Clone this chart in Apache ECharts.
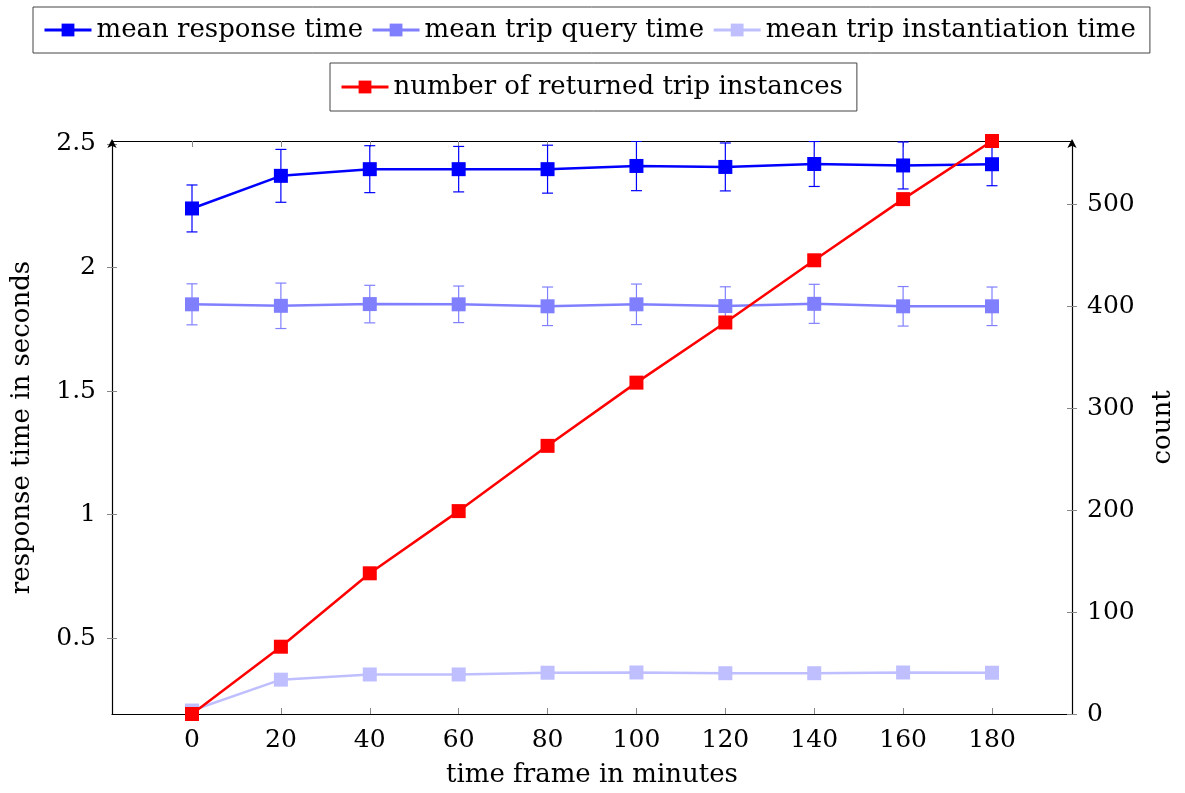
<!DOCTYPE html>
<html>
<head>
<meta charset="utf-8">
<script src="https://cdn.jsdelivr.net/npm/echarts@6/dist/echarts.min.js"></script>
<style>html,body{margin:0;padding:0;background:#fff}#c{width:1185px;height:793px}</style>
</head>
<body>
<div id="c"></div>
<script>
const xValues = [0, 20, 40, 60, 80, 100, 120, 140, 160, 180];
const responseMean = [2.239, 2.371, 2.398, 2.398, 2.398, 2.411, 2.407, 2.419, 2.413, 2.418];
const responseErr = [0.095, 0.107, 0.095, 0.092, 0.097, 0.100, 0.097, 0.091, 0.095, 0.087];
const queryMean = [1.851, 1.845, 1.852, 1.851, 1.843, 1.851, 1.844, 1.853, 1.843, 1.843];
const queryErr = [0.083, 0.092, 0.076, 0.074, 0.078, 0.082, 0.078, 0.079, 0.080, 0.078];
const instMean = [0.207, 0.332, 0.353, 0.353, 0.360, 0.361, 0.358, 0.358, 0.361, 0.360];
const tripCount = [0, 66, 138, 199, 263, 325, 384, 445, 505, 562];
const xTicks = [0, 20, 40, 60, 80, 100, 120, 140, 160, 180];
const leftTicks = [0.5, 1, 1.5, 2, 2.5];
const rightTicks = [0, 100, 200, 300, 400, 500];

const FONT = 'DejaVu Serif';
const TICKC = '#888';
const chart = echarts.init(document.getElementById('c'), null, {renderer: 'canvas'});

function pairs(ys) { return xValues.map((x, i) => [x, ys[i]]); }
function errData(m, e) { return xValues.map((x, i) => [x, m[i] - e[i], m[i] + e[i]]); }
function errSeries(name, m, e, color) {
  return {
    type: 'custom', name: name + ' err', xAxisIndex: 0, yAxisIndex: 0, clip: true, z: 2,
    silent: true,
    data: errData(m, e),
    renderItem: function (params, api) {
      const lo = api.coord([api.value(0), api.value(1)]);
      const hi = api.coord([api.value(0), api.value(2)]);
      const w = 5.5;
      const st = {stroke: color, lineWidth: 1.2};
      return {type: 'group', children: [
        {type: 'line', shape: {x1: lo[0], y1: lo[1], x2: hi[0], y2: hi[1]}, style: st},
        {type: 'line', shape: {x1: lo[0] - w, y1: lo[1], x2: lo[0] + w, y2: lo[1]}, style: st},
        {type: 'line', shape: {x1: hi[0] - w, y1: hi[1], x2: hi[0] + w, y2: hi[1]}, style: st}
      ]};
    }
  };
}
function lineSeries(name, ys, color, yIdx, z) {
  return {
    type: 'line', name: name, xAxisIndex: 0, yAxisIndex: yIdx, data: pairs(ys),
    symbol: 'rect', symbolSize: 14, clip: false, z: z,
    lineStyle: {color: color, width: 2.5}, itemStyle: {color: color},
    emphasis: {disabled: true}
  };
}
const legendText = {fontFamily: FONT, fontSize: 26, color: '#000'};
const tickText = {fontFamily: FONT, fontSize: 25, color: '#000'};
const titleText = {fontFamily: FONT, fontSize: 26, color: '#000'};

chart.setOption({
  animation: false,
  grid: {left: 112, right: 113, top: 141, bottom: 79},
  legend: [
    {data: ['mean response time', 'mean trip query time', 'mean trip instantiation time'],
     top: 7, left: 33, borderColor: '#444', borderWidth: 1, padding: [10, 14, 10, 10],
     itemWidth: 47, itemHeight: 16, itemGap: 8, textStyle: legendText,
     lineStyle: {width: 3}},
    {data: ['number of returned trip instances'],
     top: 63, left: 330, borderColor: '#444', borderWidth: 1, padding: [11, 14, 11, 10],
     itemWidth: 47, itemHeight: 16, itemGap: 8, textStyle: legendText,
     lineStyle: {width: 3}}
  ],
  xAxis: [
    {type: 'value', min: -18, max: 198, position: 'bottom',
     name: 'time frame in minutes', nameLocation: 'middle', nameGap: 48,
     nameTextStyle: titleText,
     axisLine: {show: true, onZero: false, lineStyle: {color: '#000', width: 1.2}},
     axisTick: {show: true, inside: true, length: 6, customValues: xTicks, lineStyle: {color: TICKC}},
     axisLabel: {customValues: xTicks, ...tickText, margin: 14},
     splitLine: {show: false}},
    {type: 'value', min: -18, max: 198, position: 'top',
     axisLine: {show: true, onZero: false, lineStyle: {color: '#000', width: 1.2}},
     axisTick: {show: true, inside: true, length: 6, customValues: xTicks, lineStyle: {color: TICKC}},
     axisLabel: {show: false}, splitLine: {show: false}}
  ],
  yAxis: [
    {type: 'value', min: 0.193, max: 2.512, position: 'left',
     name: 'response time in seconds', nameLocation: 'middle', nameGap: 77,
     nameTextStyle: titleText,
     axisLine: {show: true, onZero: false, symbol: ['none', 'arrow'], symbolSize: [7, 9], symbolOffset: [0, 2], lineStyle: {color: '#000', width: 1.2}},
     axisTick: {show: true, inside: false, length: 5, customValues: leftTicks, lineStyle: {color: TICKC}},
     axisLabel: {customValues: leftTicks, ...tickText, margin: 16},
     splitLine: {show: false}},
    {type: 'value', min: 0, max: 562, position: 'right',
     name: 'count', nameLocation: 'middle', nameGap: 78,
     nameTextStyle: titleText,
     axisLine: {show: true, onZero: false, symbol: ['none', 'arrow'], symbolSize: [7, 9], symbolOffset: [0, 2], lineStyle: {color: '#000', width: 1.2}},
     axisTick: {show: true, inside: false, length: 5, customValues: rightTicks, lineStyle: {color: TICKC}},
     axisLabel: {customValues: rightTicks, ...tickText, margin: 15},
     splitLine: {show: false}},
    {type: 'value', min: 0.193, max: 2.512, position: 'left',
     axisLine: {show: false, onZero: false},
     axisTick: {show: true, inside: true, length: 5, customValues: leftTicks, lineStyle: {color: TICKC}},
     axisLabel: {show: false}, splitLine: {show: false}},
    {type: 'value', min: 0, max: 562, position: 'right',
     axisLine: {show: false, onZero: false},
     axisTick: {show: true, inside: true, length: 5, customValues: rightTicks, lineStyle: {color: TICKC}},
     axisLabel: {show: false}, splitLine: {show: false}}
  ],
  series: [
    errSeries('mean response time', responseMean, responseErr, '#0000ff'),
    errSeries('mean trip query time', queryMean, queryErr, '#8080ff'),
    lineSeries('mean response time', responseMean, '#0000ff', 0, 5),
    lineSeries('mean trip query time', queryMean, '#8080ff', 0, 4),
    lineSeries('mean trip instantiation time', instMean, '#bfbfff', 0, 4),
    lineSeries('number of returned trip instances', tripCount, '#ff0000', 1, 6)
  ]
});
</script>
</body>
</html>
